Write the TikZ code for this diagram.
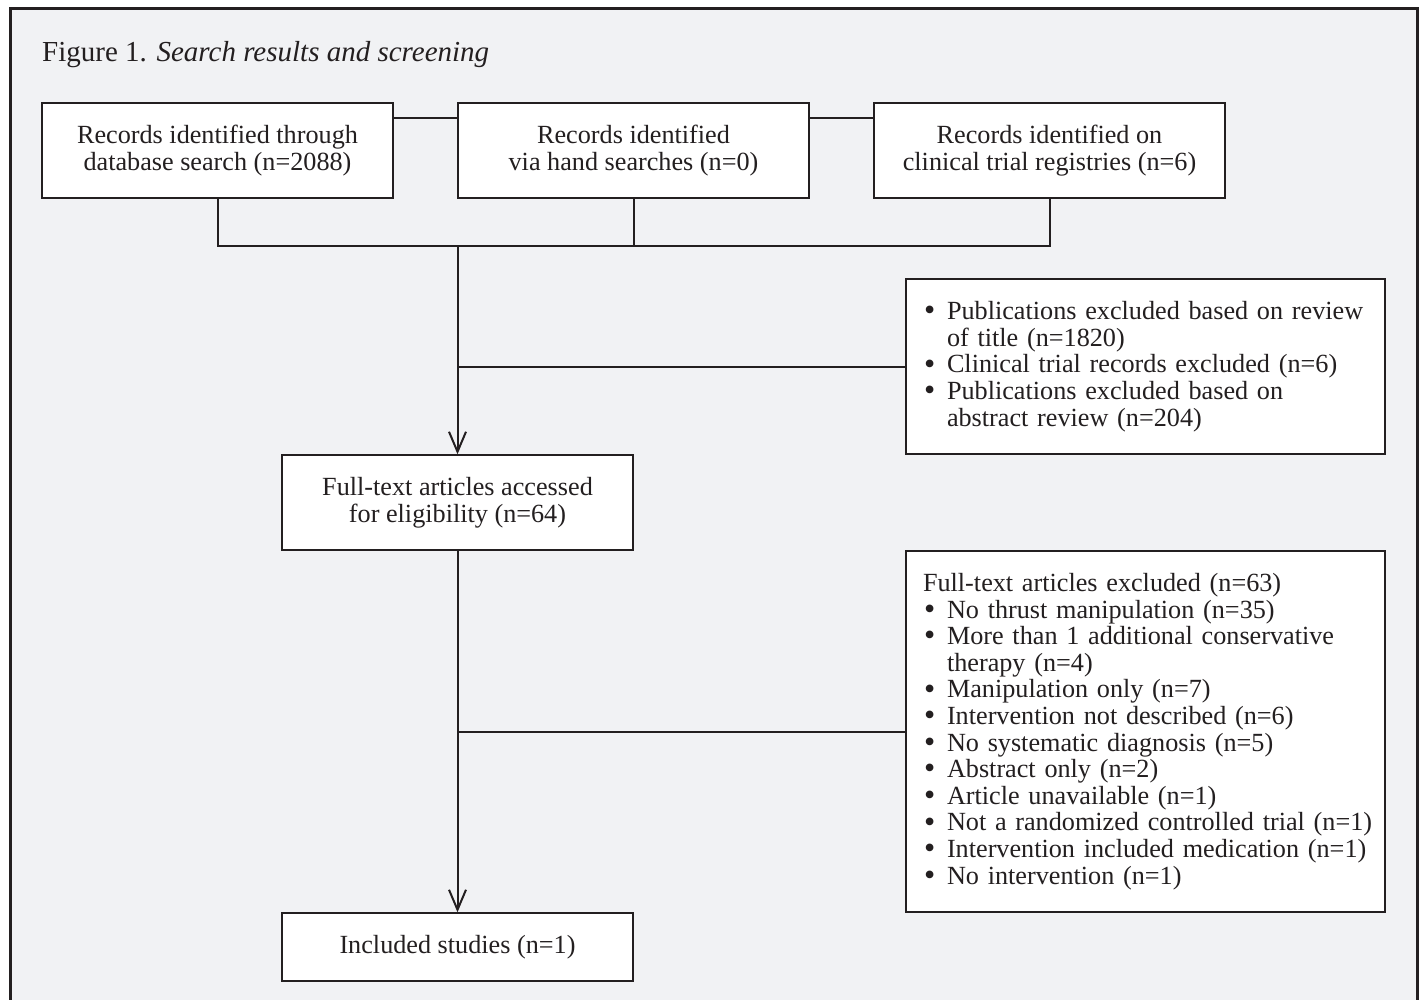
\documentclass[tikz,border=0pt]{standalone}
\usepackage{fontspec}
\setmainfont{Liberation Serif}
\usetikzlibrary{arrows.meta}
\definecolor{ink}{HTML}{231F20}
\definecolor{bg}{HTML}{F1F2F4}
\newcommand{\bul}[1]{\mbox{\hspace*{1pt}\makebox[23pt][l]{\smash{\raisebox{-1.2pt}{\fontsize{32}{26}\selectfont\textbullet}}}#1}}
\newcommand{\cont}[1]{\mbox{\hspace*{24pt}#1}}
\begin{document}
\begin{tikzpicture}[x=1pt,y=-1pt,
  txt/.style={text=ink, font=\fontsize{26.2}{26.6}\selectfont},
  box/.style={txt, draw=ink, line width=1.4pt, fill=white, align=center, inner sep=0pt,
    minimum width=351pt},
  listbox/.style={txt, draw=ink, line width=1.4pt, fill=white, align=left, inner xsep=17pt,
    inner ysep=0pt, text width=445pt, minimum width=479pt},
  conn/.style={draw=ink, line width=2pt},
  arr/.style={conn, -{Straight Barb[length=20pt, width=17pt, line width=2pt]}}
]
\useasboundingbox (0,0) rectangle (1422,1000);
\draw[draw=ink, line width=3pt, fill=bg] (10.5,8.5) rectangle (1417,1012);

\node[txt, anchor=base west, inner sep=0pt, font=\fontsize{29}{30}\selectfont] (title) at (42,62)
  {Figure 1. \textit{Search results and screening}};

\node[box, minimum height=95pt] (b1) at (217.5,150.5)
  {Records identified through\\database search (n=2088)};
\node[box, minimum height=95pt] (b2) at (633.5,150.5)
  {Records identified\\via hand searches (n=0)};
\node[box, minimum height=95pt] (b3) at (1049.5,150.5)
  {Records identified on\\clinical trial registries (n=6)};

\node[listbox, minimum height=175pt] (ex1) at (1145.5,366.5)
  {\bul{Publications excluded based on review}\\
   \cont{of title (n=1820)}\\
   \bul{Clinical trial records excluded (n=6)}\\
   \bul{Publications excluded based on}\\
   \cont{abstract review (n=204)}};

\node[box, minimum height=95pt] (ft) at (457.5,502.5)
  {Full-text articles accessed\\for eligibility (n=64)};

\node[listbox, minimum height=361pt] (ex2) at (1145.5,731.5)
  {\mbox{Full-text articles excluded (n=63)}\\
   \bul{No thrust manipulation (n=35)}\\
   \bul{More than 1 additional conservative}\\
   \cont{therapy (n=4)}\\
   \bul{Manipulation only (n=7)}\\
   \bul{Intervention not described (n=6)}\\
   \bul{No systematic diagnosis (n=5)}\\
   \bul{Abstract only (n=2)}\\
   \bul{Article unavailable (n=1)}\\
   \bul{Not a randomized controlled trial (n=1)}\\
   \bul{Intervention included medication (n=1)}\\
   \bul{No intervention (n=1)}};

\node[box, minimum height=68pt] (inc) at (457.5,947)
  {Included studies (n=1)};

\coordinate (j) at (457.5,246);
\coordinate (m1) at (457.5,366.5);
\coordinate (m2) at (457.5,731.5);

% links between top boxes
\draw[conn] (b1.east |- 0,118) -- (b2.west |- 0,118);
\draw[conn] (b2.east |- 0,118) -- (b3.west |- 0,118);
% merge bar
\draw[conn] (b1.south) -- (b1.south |- j) -- (b3.south |- j) -- (b3.south);
\draw[conn] (b2.south) -- (b2.south |- j);
% main flow
\draw[arr] (j) -- (ft.north);
\draw[conn] (m1) -- (ex1.west);
\draw[arr] (ft.south) -- (inc.north);
\draw[conn] (m2) -- (ex2.west);
\end{tikzpicture}
\end{document}
